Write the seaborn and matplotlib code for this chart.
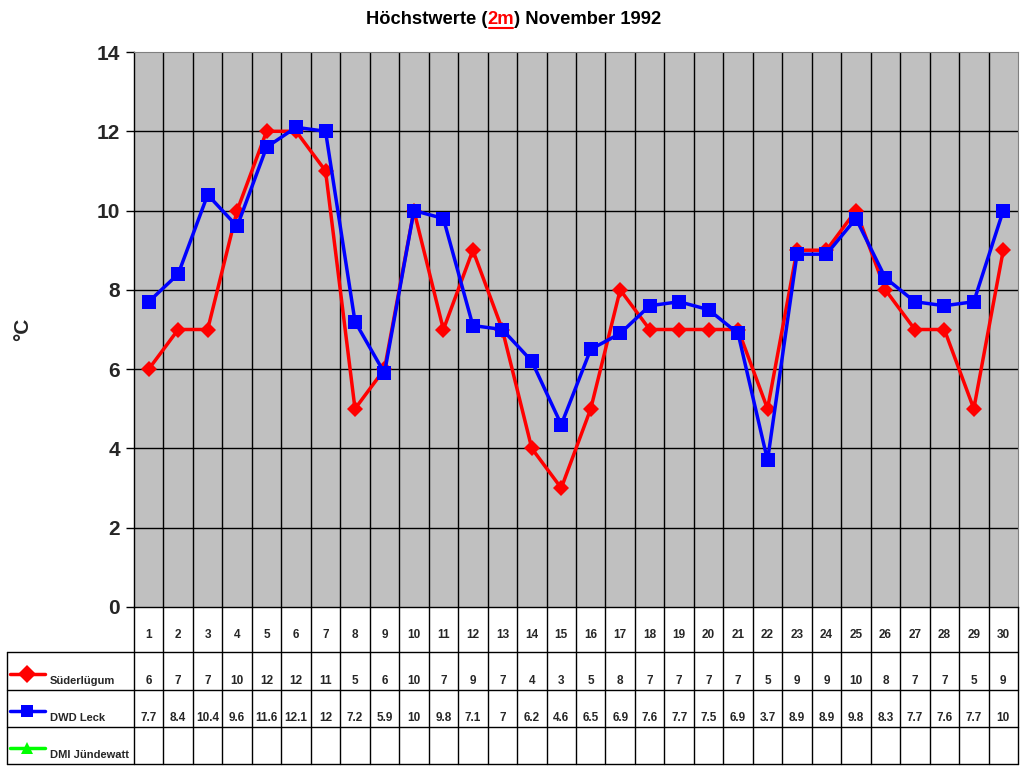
import numpy as np
import pandas as pd
import seaborn as sns
import matplotlib.pyplot as plt
from matplotlib.lines import Line2D

# Daten November 1992 (Höchstwerte 2m)
tage = list(range(1, 31))
suederluegum = [6, 7, 7, 10, 12, 12, 11, 5, 6, 10, 7, 9, 7, 4, 3,
                5, 8, 7, 7, 7, 7, 5, 9, 9, 10, 8, 7, 7, 5, 9]
dwd_leck = [7.7, 8.4, 10.4, 9.6, 11.6, 12.1, 12, 7.2, 5.9, 10, 9.8, 7.1, 7, 6.2, 4.6,
            6.5, 6.9, 7.6, 7.7, 7.5, 6.9, 3.7, 8.9, 8.9, 9.8, 8.3, 7.7, 7.6, 7.7, 10]
serien_namen = ['Süderlügum', 'DWD Leck', 'DMI Jündewatt']
serien_farben = ['#FF0000', '#0000FF', '#00FF00']
serien_marker = ['D', 's', '^']
y_ticks = [0, 2, 4, 6, 8, 10, 12, 14]

df = pd.DataFrame({'Tag': tage, 'Süderlügum': suederluegum, 'DWD Leck': dwd_leck})

sns.set_style('white')
plt.rcParams['font.family'] = ['Liberation Sans', 'DejaVu Sans']
plt.rcParams['font.weight'] = 'bold'

W, H = 1024, 768
fig = plt.figure(figsize=(10.24, 7.68), dpi=100)

# Hauptdiagramm
x0, x1, ytop, ybot = 134, 1018, 52, 607
ax = fig.add_axes([x0 / W, 1 - ybot / H, (x1 - x0) / W, (ybot - ytop) / H])
ax.set_facecolor('#C0C0C0')

sns.lineplot(data=df, x='Tag', y='Süderlügum', ax=ax, color=serien_farben[0], marker='D',
             markersize=8, markeredgewidth=0, linewidth=2.5, zorder=3)
sns.lineplot(data=df, x='Tag', y='DWD Leck', ax=ax, color=serien_farben[1], marker='s',
             markersize=10, markeredgewidth=0, linewidth=2.5, zorder=4)

ax.set_xlim(0.5, 30.5)
ax.set_ylim(0, 14)
ax.set_yticks(y_ticks)
ax.set_yticklabels([str(v) for v in y_ticks], fontsize=15, fontweight='bold')
ax.set_xticks([])
ax.set_xlabel('')
ax.set_ylabel('°C', fontsize=15, fontweight='bold')
ax.yaxis.set_label_coords((32 - x0) / (x1 - x0), 0.5)
ax.tick_params(axis='y', direction='out', length=6, width=1, color='black', pad=4, left=True)
for v in y_ticks[1:-1]:
    ax.axhline(v, color='black', linewidth=1, zorder=1)
for xb in np.arange(1.5, 30.5, 1):
    ax.axvline(xb, color='black', linewidth=1, zorder=1)
for s in ['left', 'bottom']:
    ax.spines[s].set_color('black')
    ax.spines[s].set_linewidth(1)
ax.spines['top'].set_color('#808080')
ax.spines['right'].set_color('#808080')

# Titel mit rotem, unterstrichenem "2m"
teile = [('Höchstwerte (', 'black'), ('2m', '#FF0000'), (') November 1992', 'black')]
fig.canvas.draw()
rend = fig.canvas.get_renderer()
breiten = []
objs = []
for txt, col in teile:
    t = fig.text(0, 1 - 20 / H, txt, fontsize=13.2, fontweight='bold', color=col, va='center', ha='left')
    breiten.append(t.get_window_extent(rend).width)
    objs.append(t)
start = 514 - sum(breiten) / 2
pos = start
for t, b in zip(objs, breiten):
    t.set_x(pos / W)
    if t.get_text() == '2m':
        fig.add_artist(Line2D([(pos + 1) / W, (pos + b - 1) / W], [1 - 28 / H, 1 - 28 / H],
                              color='#FF0000', linewidth=1.5))
    pos += b

# Datentabelle
tab_top, tab_bot = 607, 764
tab = fig.add_axes([x0 / W, 1 - tab_bot / H, (x1 - x0) / W, (tab_bot - tab_top) / H])
tab.set_xlim(0.5, 30.5)
tab.set_ylim(tab_bot - tab_top, 0)
tab.axis('off')

spalte = (x1 - x0) / 30
links = 0.5 - (x0 - 7) / spalte
zeilen = [45, 83, 120, 157]
for yb in zeilen:
    tab.plot([links, 30.5], [yb, yb], color='black', linewidth=1, clip_on=False)
for xb in np.arange(0.5, 31.5, 1):
    tab.plot([xb, xb], [0, 157], color='black', linewidth=1, clip_on=False)
tab.plot([links, links], [45, 157], color='black', linewidth=1, clip_on=False)

for t in tage:
    tab.text(t, 28, str(t), ha='center', va='center', fontsize=8.5, fontweight='bold')
for t, v in zip(tage, suederluegum):
    tab.text(t, 74, f'{v:g}', ha='center', va='center', fontsize=8.5, fontweight='bold')
for t, v in zip(tage, dwd_leck):
    tab.text(t, 111, f'{v:g}', ha='center', va='center', fontsize=8.5, fontweight='bold')

# Legendenspalte
leg_y = [74, 111, 148]
for name, col, mk, yy in zip(serien_namen, serien_farben, serien_marker, leg_y):
    xa = links + (10 - 7) / spalte
    xe = links + (45 - 7) / spalte
    tab.plot([xa, xe], [yy - 7, yy - 7], color=col, linewidth=2.5, clip_on=False)
    tab.plot([(xa + xe) / 2], [yy - 7], color=col, marker=mk, markersize=9,
             markeredgewidth=0, clip_on=False)
    tab.text(links + (50 - 7) / spalte, yy, name, ha='left', va='center',
             fontsize=8, fontweight='bold')

fig.savefig('out.png', dpi=100)
